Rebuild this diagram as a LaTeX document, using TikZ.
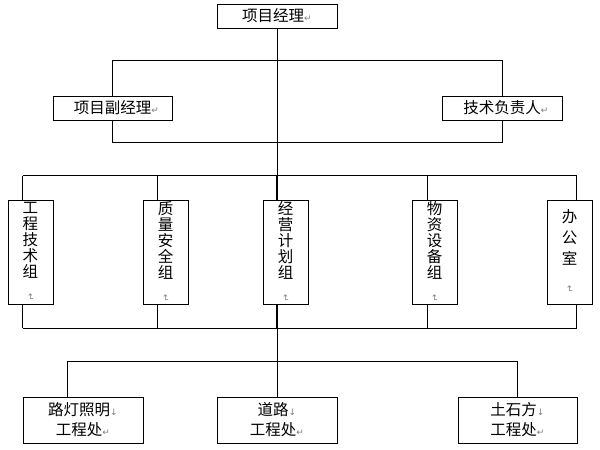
\documentclass[tikz,border=0pt]{standalone}
\usepackage{fontspec}
\usepackage{graphicx}
\setmainfont{Noto Sans CJK SC}
\newfontfamily\markfont{DejaVu Sans}
\usetikzlibrary{positioning, calc, backgrounds}
\newcommand{\retmark}{{\markfont\fontsize{9}{9}\selectfont\color{gray}↵}}
\newcommand{\dnmark}{{\markfont\fontsize{9}{9}\selectfont\color{gray}↓}}
\newcommand{\vretmark}{\rotatebox{-90}{\retmark}}

\begin{document}
\begin{tikzpicture}[x=1pt, y=-1pt, line width=0.9pt,
	hbox/.style={draw, fill=white, inner sep=0pt, minimum height=24pt, font=\fontsize{15.5}{16}\selectfont},
	vbox/.style={draw, fill=white, inner sep=0pt, minimum width=45pt, minimum height=104pt, align=center, font=\fontsize{15.5}{16}\selectfont},
	bbox/.style={draw, fill=white, inner sep=0pt, minimum width=120pt, minimum height=46pt, align=center, font=\fontsize{15.5}{20}\selectfont}]
	\useasboundingbox (0,0) rectangle (600,450);

	\node[hbox, minimum width=120pt] (xmjl) at (277,16) {项目经理\retmark};
	\node[hbox, minimum width=119pt] (fujl) at (112.5,108) {\hspace{8pt}项目副经理\retmark};
	\node[hbox, minimum width=120pt] (jsfz) at (502,108) {\hspace{8pt}技术负责人\retmark};

	\node[vbox] (gcjs) at (30.5,252) {工\\程\\技\\术\\组\\\vretmark};
	\node[vbox] (zlaq) at (165.5,252) {质\\量\\安\\全\\组\\\vretmark};
	\node[vbox] (jyjh) at (285.5,252) {经\\营\\计\\划\\组\\\vretmark};
	\node[vbox] (wzsb) at (434.5,252) {物\\资\\设\\备\\组\\\vretmark};
	\node[vbox, font=\fontsize{15.5}{21}\selectfont] (bgs) at (569.5,252) {办\\公\\室\\\vretmark\\[-12pt]};

	\node[bbox] (ldzm) at (83,420) {路灯照明\dnmark\\工程处\retmark};
	\node[bbox] (dlgc) at (277,420) {道路\dnmark\\工程处\retmark};
	\node[bbox, minimum width=119pt] (tsf) at (517.5,420) {土石方\dnmark\\工程处\retmark};

	\begin{scope}[on background layer]
		\draw (xmjl) -- (dlgc);
		\draw (fujl.north) -- ++(0,-35) -| (jsfz.north);
		\draw (fujl.south) -- ++(0,22) -| (jsfz.south);
		\foreach \n/\dx in {gcjs/15, zlaq/15, jyjh/14, wzsb/16, bgs/30}{
			\draw ($(\n.north west)+(\dx,0)$) -- ++(0,-24);
			\draw ($(\n.south west)+(\dx,0)$) -- ++(0,24);
		}
		\draw ($(gcjs.north west)+(15,-24)$) -- ($(bgs.north west)+(30,-24)$);
		\draw ($(gcjs.south west)+(15,24)$) -- ($(bgs.south west)+(30,24)$);
		\draw ($(ldzm.north west)+(45,0)$) -- ++(0,-35) -| (tsf.north);
	\end{scope}
\end{tikzpicture}
\end{document}
